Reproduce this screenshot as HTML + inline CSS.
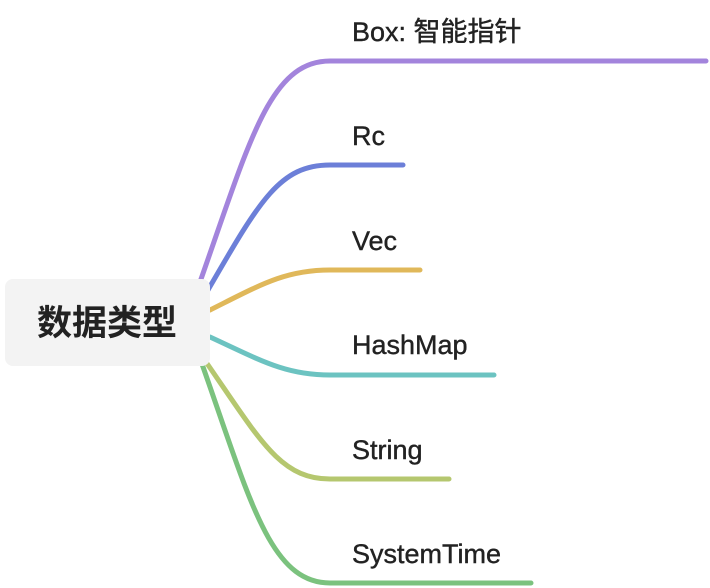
<!DOCTYPE html>
<html><head><meta charset="utf-8"><style>
html,body{margin:0;padding:0;background:#fff;width:710px;height:588px;overflow:hidden}
</style></head><body>
<svg width="710" height="588" viewBox="0 0 710 588" xmlns="http://www.w3.org/2000/svg">
<g fill="none" stroke-width="5" stroke-linecap="round">
<path d="M200,282 C250,140 270,61 330,61 L706,61" stroke="#a384dc"/>
<path d="M208,290 C260,200 280,165 330,165 L403,165" stroke="#6c7fd8"/>
<path d="M210,310 C260,285 285,270 330,270 L420,270" stroke="#e0b85a"/>
<path d="M210,337 C260,360 285,375 330,375 L494,375" stroke="#6cc3c1"/>
<path d="M206,362 C260,440 280,479 330,479 L449,479" stroke="#b5c76f"/>
<path d="M202,364 C250,500 270,583 330,583 L531,583" stroke="#7bc27e"/>
</g>
<rect x="5" y="279" width="205" height="87" rx="8" fill="#f3f3f3"/>
<text x="107" y="335" text-anchor="middle" font-family="'Liberation Sans','Noto Sans CJK SC',sans-serif" font-size="35" font-weight="bold" fill="#222">数据类型</text>
<g font-family="'Liberation Sans','Noto Sans CJK SC',sans-serif" font-size="27" fill="#222" stroke="#222" stroke-width="0.4">
<text x="352" y="41">Box: 智能指针</text>
<text x="352" y="145">Rc</text>
<text x="352" y="250">Vec</text>
<text x="352" y="354">HashMap</text>
<text x="352" y="459">String</text>
<text x="352" y="563">SystemTime</text>
</g>
</svg>
</body></html>
